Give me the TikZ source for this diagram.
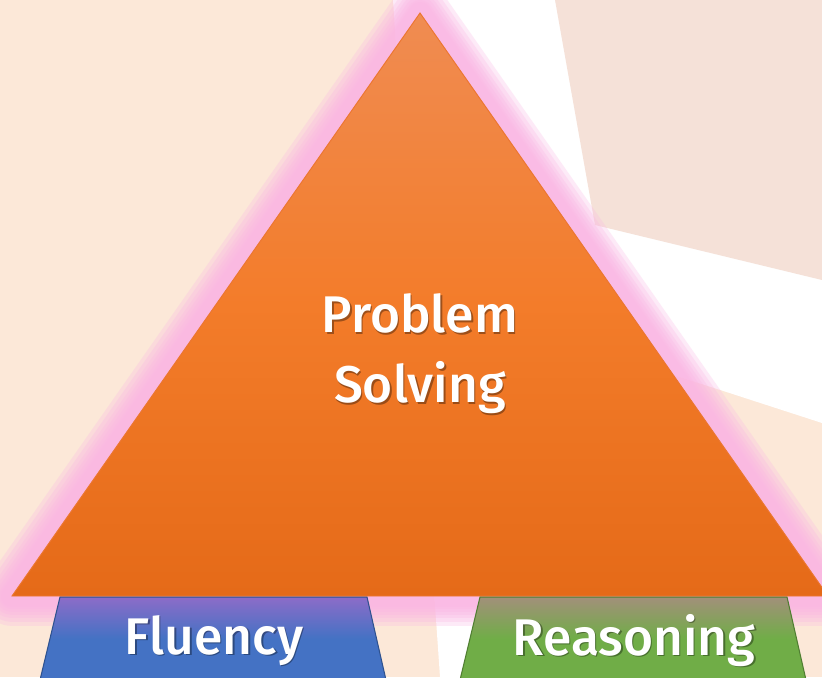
\documentclass[tikz,border=0pt]{standalone}
\usepackage{fontspec}
\setmainfont{Fira Sans}[BoldFont={Fira Sans Medium}]
\usetikzlibrary{positioning}

\definecolor{peach}{RGB}{252,232,216}
\definecolor{paper}{RGB}{245,225,216}
\definecolor{glowpink}{RGB}{250,182,228}
\definecolor{orangetop}{RGB}{240,140,82}
\definecolor{orangemid}{RGB}{243,124,42}
\definecolor{orangebot}{RGB}{229,106,24}
\definecolor{orangeedge}{RGB}{236,118,48}
\definecolor{fluencyblue}{RGB}{68,114,196}
\definecolor{fluencytop}{RGB}{140,108,200}
\definecolor{fluencyedge}{RGB}{47,82,143}
\definecolor{reasongreen}{RGB}{112,173,71}
\definecolor{reasontop}{RGB}{162,144,122}
\definecolor{reasonedge}{RGB}{80,126,50}

\begin{document}
\begin{tikzpicture}[
    x=0.03cm, y=-0.03cm,
    every node/.style={inner sep=0pt},
    pyramidtext/.style={text=white, align=center,
        font=\bfseries\fontsize{44}{59.5}\selectfont},
    textshadow/.style={pyramidtext, text=black, text opacity=0.35},
    glowline/.style={draw=glowpink, draw opacity=0.28, line join=round},
    basebox/.style={line width=0.9pt}
]
    \useasboundingbox (0,0) rectangle (822,677);
    \clip (0,0) rectangle (822,677);

    % ---- Background ----
    \fill[peach] (0,0) rectangle (822,677);
    \fill[white] (393,0) -- (822,0) -- (822,423) -- (560,338) -- (460,677) -- (440,677) -- cycle;
    \fill[paper] (555,0) -- (822,0) -- (822,280) -- (595,225) -- cycle;

    % ---- Corners ----
    \coordinate (apex) at (420,13);
    \coordinate (left) at (12,596);
    \coordinate (right) at (828,596);

    % ---- Glow ----
    \foreach \w in {60,52,44,38,32,26,22}
        \draw[glowline, line width=\w*0.85pt] (apex) -- (left) -- (right) -- cycle;

    % ---- Fluency ----
    \draw[basebox, draw=fluencyedge, top color=fluencytop, bottom color=fluencyblue,
        middle color=fluencyblue] (60,597) -- (367,597) -- (386,680) -- (40,680) -- cycle;
    \node[textshadow, anchor=base] (fluency-s) at (215.5,655.5) {Fluency};
    \node[pyramidtext, anchor=base] (fluency) at (214,654) {Fluency};

    % ---- Reasoning ----
    \draw[basebox, draw=reasonedge, top color=reasontop, bottom color=reasongreen,
        middle color=reasongreen] (480,597) -- (787,597) -- (806,680) -- (460,680) -- cycle;
    \node[textshadow, anchor=base] (reasoning-s) at (635.5,656.5) {Reasoning};
    \node[pyramidtext, anchor=base] (reasoning) at (634,655) {Reasoning};

    % ---- Problem Solving ----
    \draw[draw=orangeedge, line width=0.8pt, top color=orangetop, bottom color=orangebot,
        middle color=orangemid] (apex) -- (left) -- (right) -- cycle;
    \node[textshadow] (problem-s) at (421.5,355.5) {Problem\\Solving};
    \node[pyramidtext] (problem) at (420,354) {Problem\\Solving};

\end{tikzpicture}
\end{document}
